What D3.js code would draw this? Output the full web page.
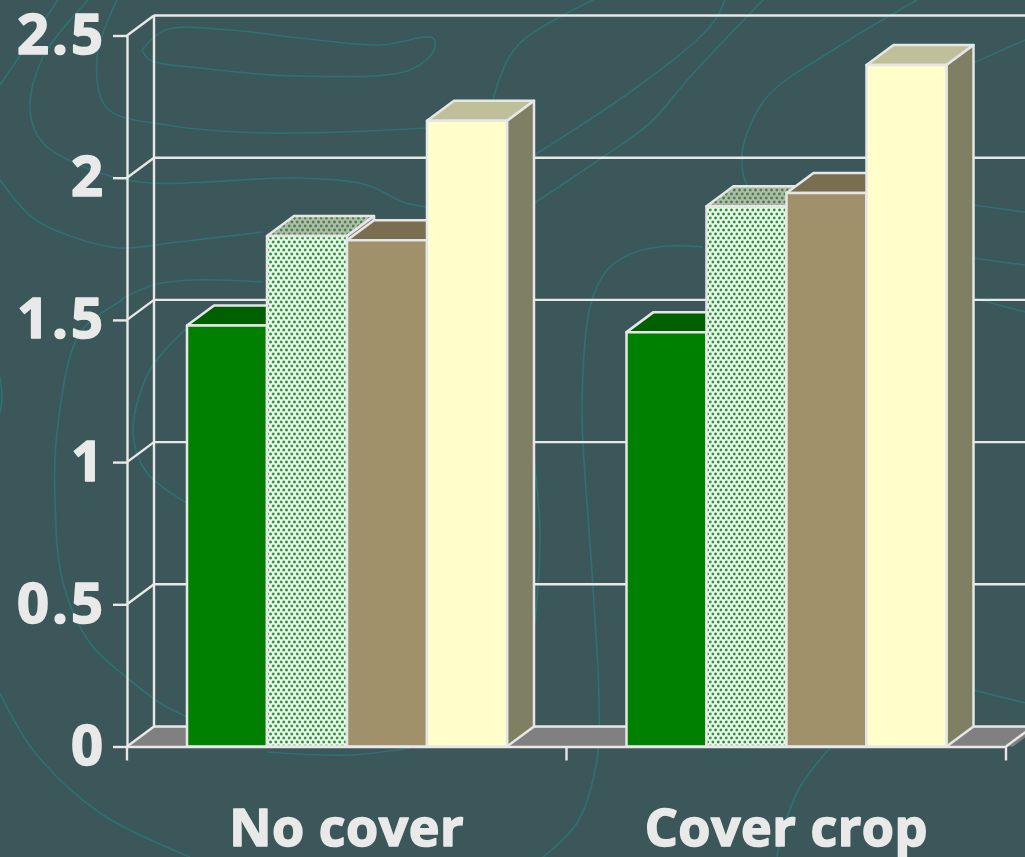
<!DOCTYPE html>
<html>
<head>
<meta charset="utf-8">
<script src="https://cdn.jsdelivr.net/npm/d3@7"></script>
<style>
  html, body { margin: 0; padding: 0; background: #3b5759; overflow: hidden; }
  svg { display: block; }
  text { font-family: "Open Sans", "Noto Sans", sans-serif; font-weight: 700; fill: #e9e9e9;
         stroke: #e9e9e9; stroke-width: 1.6px; stroke-linejoin: round; paint-order: stroke; }
</style>
</head>
<body>
<svg id="chart" width="1025" height="857"></svg>
<script>
// Chart values
const categories = ["No cover", "Cover crop"];
const seriesNames = ["A", "B", "C", "D"];
const noCover = [1.48, 1.795, 1.78, 2.2];
const coverCrop = [1.457, 1.9, 1.946, 2.396];
const yTicks = [0, 0.5, 1, 1.5, 2, 2.5];

// Face colours per series: front, top, side
const frontFill = ["#008000", "url(#dots)", "#a0916a", "#ffffcc"];
const topFill = ["#006000", "url(#dotsTop)", "#7a6e50", "#bfbf99"];
const sideFill = ["#006000", "#7a8a70", "#7a6e50", "#7f7f63"];

// Faint contour lines of the slide backdrop
const contours = [
  [[142,50],[165,30],[230,30],[300,38],[380,45],[433,38],[434,50],[410,70],[300,76],[200,68],[150,60],[142,50]],
  [[117,0],[97,57],[107,108],[167,125],[267,133],[427,128]],
  [[88,0],[43,57],[30,110],[43,143],[100,173],[150,183],[300,178],[367,185],[403,202],[427,207]],
  [[58,0],[0,85]],
  [[0,180],[33,218],[70,236],[120,248],[170,243],[263,232]],
  [[120,300],[153,285],[193,280],[263,282]],
  [[123,300],[80,333],[57,433],[55,500],[63,583],[90,643],[130,680],[160,703],[187,717]],
  [[267,752],[350,755],[410,748]],
  [[0,693],[33,750],[100,813],[190,857]],
  [[187,328],[150,370],[133,433],[147,473],[187,503]],
  [[0,377],[2,397],[0,413]],
  [[490,115],[500,77],[520,43],[593,0]],
  [[533,156],[633,90],[700,37],[717,17],[725,0]],
  [[533,204],[603,157],[650,123],[690,77],[763,0]],
  [[917,0],[833,50],[767,97],[743,147],[743,173],[747,185]],
  [[703,247],[667,246],[633,253],[607,270],[590,307],[582,400],[583,443],[593,587],[599,700],[597,760],[577,823],[543,857]],
  [[533,450],[540,533],[535,623]],
  [[973,63],[1025,40]],
  [[973,205],[1025,212]],
  [[973,258],[1025,265]],
  [[973,298],[1025,312]],
  [[973,690],[1025,703]],
  [[830,748],[800,787],[783,830],[777,857]]
];

const depthX = 27, depthY = -20;
const lineColor = "#e8e8e8";

const svg = d3.select("#chart");

// Dotted fills for the second series
const defs = svg.append("defs");
function dotPattern(id, ground, dot) {
  const p = defs.append("pattern").attr("id", id).attr("patternUnits", "userSpaceOnUse")
    .attr("width", 5.33).attr("height", 8);
  p.append("rect").attr("width", 5.33).attr("height", 8).attr("fill", ground);
  p.selectAll("circle").data([[1.33, 2], [4, 6]]).join("circle")
    .attr("cx", d => d[0]).attr("cy", d => d[1]).attr("r", 1.4).attr("fill", dot);
}
dotPattern("dots", "#f1f8ef", "#1f9632");
dotPattern("dotsTop", "#b5bcab", "#3f8549");

// Backdrop contours
const contourLine = d3.line().curve(d3.curveCatmullRom.alpha(0.5));
svg.append("g").selectAll("path").data(contours).join("path")
  .attr("d", contourLine).attr("fill", "none")
  .attr("stroke", "#2f7072").attr("stroke-width", 1.7);

// Scales
const y = d3.scaleLinear().domain([0, 2.5]).range([746.5, 35.5]);
const x = d3.scaleBand().domain(categories).range([127, 1006]);
const inner = d3.scaleBand().domain(seriesNames).range([60, 380]);
const rightEdge = 1040;

// Floor of the 3D frame
svg.append("polygon")
  .attr("points", [[x.range()[0], y(0)], [x.range()[0] + depthX, y(0) + depthY],
                   [rightEdge, y(0) + depthY], [rightEdge - depthX, y(0)]].join(" "))
  .attr("fill", "#808080");

// Back wall gridlines and their slanted links to the axis
const grid = svg.append("g").attr("stroke", lineColor).attr("stroke-width", 2.4).attr("fill", "none");
grid.selectAll("line.back").data(yTicks).join("line").attr("class", "back")
  .attr("x1", x.range()[0] + depthX).attr("x2", rightEdge)
  .attr("y1", d => y(d) + depthY).attr("y2", d => y(d) + depthY);
grid.selectAll("line.link").data(yTicks).join("line").attr("class", "link")
  .attr("x1", x.range()[0]).attr("x2", x.range()[0] + depthX)
  .attr("y1", d => y(d)).attr("y2", d => y(d) + depthY);
grid.append("line")
  .attr("x1", x.range()[0] + depthX).attr("x2", x.range()[0] + depthX)
  .attr("y1", y(2.5) + depthY).attr("y2", y(0) + depthY);
grid.append("line")
  .attr("x1", x.range()[1]).attr("x2", x.range()[1] + depthX)
  .attr("y1", y(0)).attr("y2", y(0) + depthY);

// Bars: top and side faces first, the front face on top
const rows = categories.map((c, i) => ({ c, values: i === 0 ? noCover : coverCrop }));
const bars = rows.flatMap(r => r.values.map((v, s) => ({ c: r.c, s, v })));
const g = svg.append("g").attr("stroke", "#e6e6e6").attr("stroke-width", 2.5).attr("stroke-linejoin", "round");
bars.forEach(b => {
  const x0 = x(b.c) + inner(seriesNames[b.s]);
  const x1 = x0 + inner.bandwidth();
  const top = y(b.v), base = y(0);
  g.append("polygon")
    .attr("points", [[x0, top], [x0 + depthX, top + depthY], [x1 + depthX, top + depthY], [x1, top]].join(" "))
    .attr("fill", topFill[b.s]);
  g.append("polygon")
    .attr("points", [[x1, top], [x1 + depthX, top + depthY], [x1 + depthX, base + depthY], [x1, base]].join(" "))
    .attr("fill", sideFill[b.s]);
  g.append("rect")
    .attr("x", x0).attr("y", top).attr("width", x1 - x0).attr("height", base - top)
    .attr("fill", frontFill[b.s]);
});

// Axes
const yAxis = svg.append("g").attr("transform", `translate(${x.range()[0]},0)`)
  .call(d3.axisLeft(y).tickValues(yTicks).tickFormat(d3.format("")).tickSize(14).tickSizeOuter(0).tickPadding(7));
const xAxis = svg.append("g").attr("transform", `translate(0,${y(0)})`)
  .call(d3.axisBottom(x).tickSize(0).tickPadding(0));
// Category boundary ticks sit between the bands
xAxis.selectAll("line.boundary").data([0, 1, 2]).join("line").attr("class", "boundary")
  .attr("x1", i => x.range()[0] + i * x.step()).attr("x2", i => x.range()[0] + i * x.step())
  .attr("y1", 0).attr("y2", 14);

[yAxis, xAxis].forEach(a => {
  a.selectAll("path.domain, line").attr("stroke", lineColor).attr("stroke-width", 2.4);
  a.selectAll("text").attr("fill", null);
  a.attr("font-family", null).attr("font-size", null);
});
yAxis.selectAll("text").style("font-size", "56px").attr("dy", 18).style("letter-spacing", "3px");
xAxis.selectAll("text").style("font-size", "52px").attr("y", 99).attr("dy", 0).style("letter-spacing", "0.5px");
</script>
</body>
</html>
